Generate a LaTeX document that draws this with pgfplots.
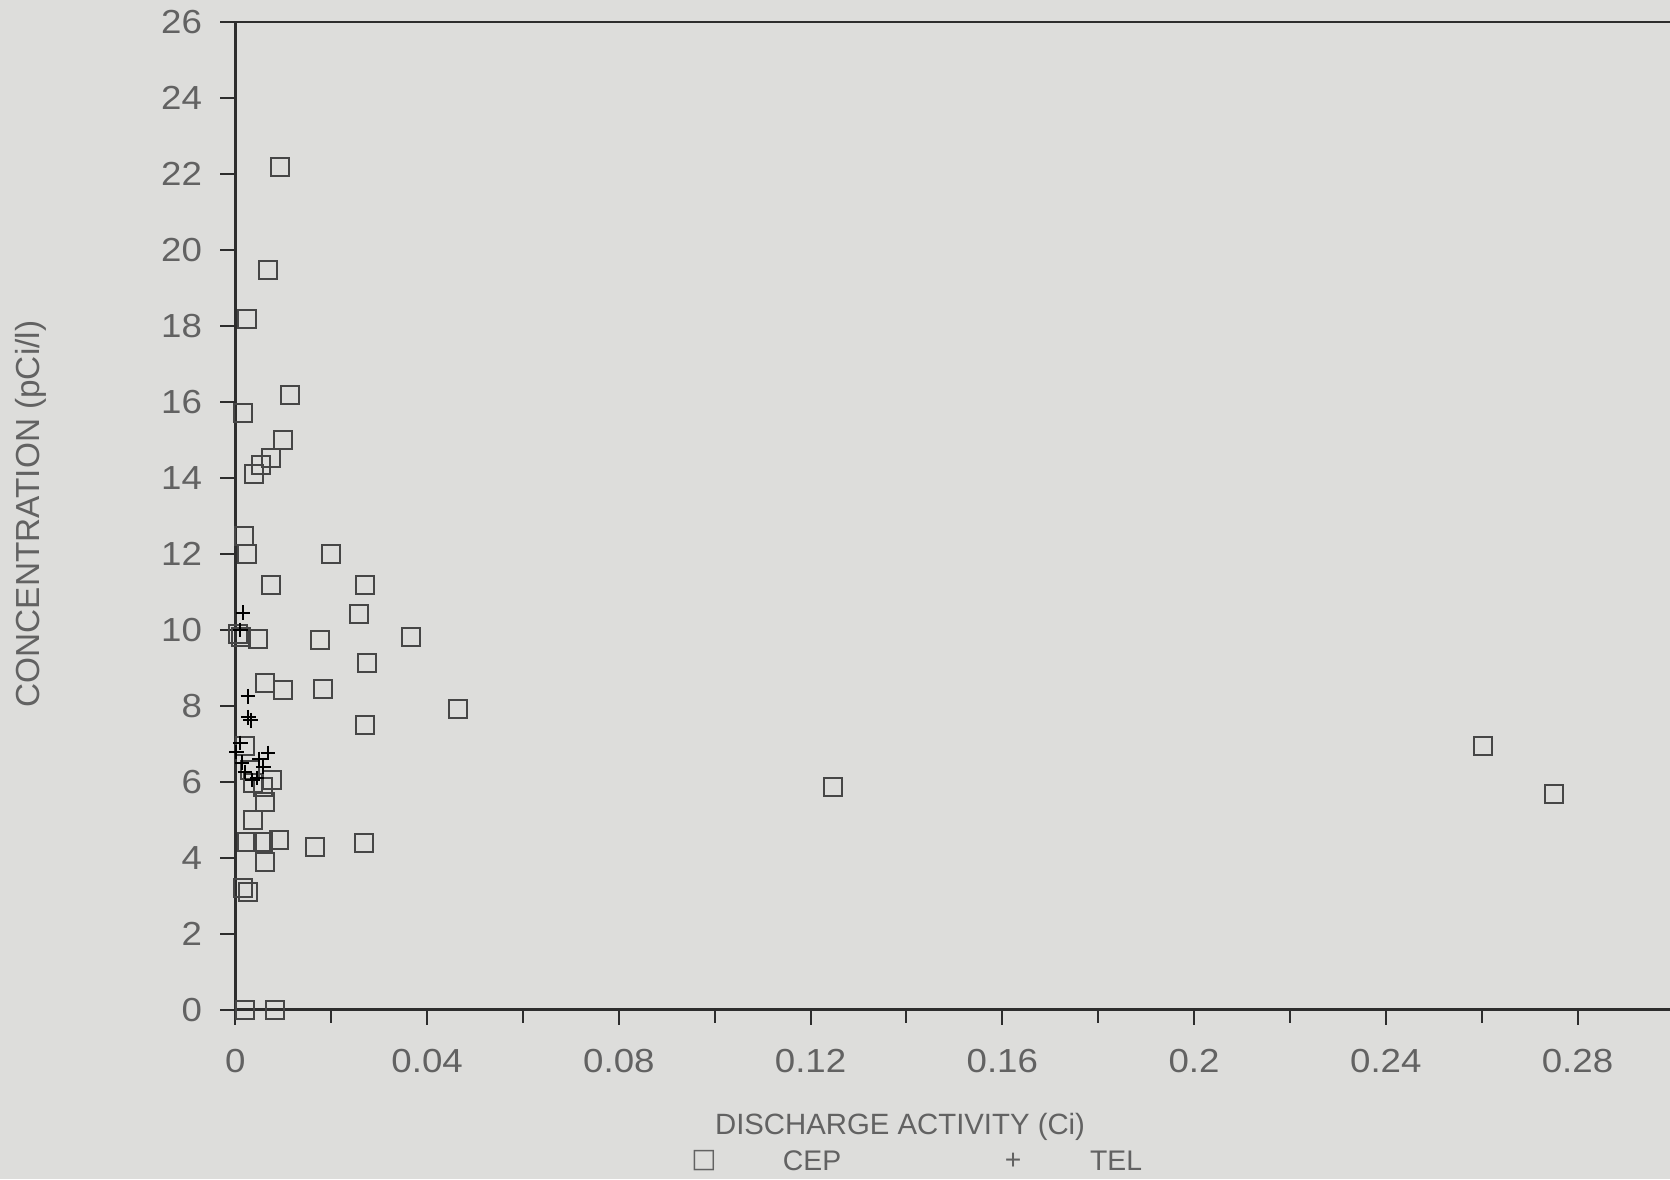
\documentclass[border=0pt]{standalone}
\usepackage{pgfplots}
\pgfplotsset{compat=1.18}
\usepackage{fontspec}
\setmainfont{Liberation Sans}
\newfontfamily\tickfont{Liberation Sans}[FakeStretch=1.1]
\newfontfamily\symfont{DejaVu Sans}
\definecolor{bg}{RGB}{221,221,219}
\definecolor{txt}{RGB}{98,98,98}
\definecolor{ax}{RGB}{45,45,45}
\definecolor{mk}{RGB}{70,70,70}
\begin{document}
\begin{tikzpicture}
\path[use as bounding box] (-70.62pt,-50.82pt) rectangle (430.38pt,302.88pt);
\clip (-70.62pt,-50.82pt) rectangle (430.38pt,302.88pt);
\fill[bg] (-70.62pt,-50.82pt) rectangle (430.38pt,302.88pt);
\begin{axis}[
  at={(0,0)}, anchor=south west,
  scale only axis, width=431.4pt, height=296.2pt,
  xmin=0, xmax=0.3, ymin=0, ymax=26,
  axis line style={ax, line width=0.7pt},
  tick style={ax, line width=0.6pt},
  tick pos=left, tick align=outside,
  major tick length=4.5pt, minor tick length=4pt,
  xtick={0,0.04,0.08,0.12,0.16,0.2,0.24,0.28},
  xticklabels={0,0.04,0.08,0.12,0.16,0.2,0.24,0.28},
  minor xtick={0.02,0.06,0.10,0.14,0.18,0.22,0.26},
  ytick={0,2,4,6,8,10,12,14,16,18,20,22,24,26},
  /pgf/number format/assume math mode=true,
  ticklabel style={font=\tickfont\fontsize{10}{12}\selectfont, text=txt},
  xticklabel style={yshift=-4pt},
  yticklabel style={xshift=-2pt},
  clip=false,
]
\addplot[only marks, mark=square, mark size=2.7pt, mk, mark options={line width=0.6pt}] coordinates {
(0.0093,22.19) (0.0067,19.47) (0.0024,18.18) (0.0113,16.19) (0.0016,15.71)
(0.0100,15.01) (0.0075,14.53) (0.0053,14.33) (0.0038,14.11) (0.0018,12.48)
(0.0024,12.01) (0.0200,12.01) (0.0075,11.19) (0.0271,11.19) (0.0257,10.41)
(0.0005,9.90) (0.0012,9.82) (0.0047,9.75) (0.0176,9.73) (0.0366,9.82)
(0.0275,9.12) (0.0062,8.60) (0.0099,8.42) (0.0183,8.45) (0.0464,7.91)
(0.0271,7.49) (0.0020,6.95) (0.2602,6.93) (0.2751,5.69) (0.1247,5.86)
(0.0030,6.30) (0.0077,6.04) (0.0037,5.96) (0.0058,5.86) (0.0062,5.47)
(0.0037,4.99) (0.0024,4.41) (0.0058,4.41) (0.0090,4.47) (0.0166,4.28)
(0.0268,4.40) (0.0062,3.89) (0.0016,3.20) (0.0026,3.10) (0.0020,0) (0.0083,0)
};
\addplot[only marks, mark=+, mark size=2.2pt, black, mark options={line width=0.6pt}] coordinates {
(0.0016,10.45) (0.0010,10.00) (0.0026,8.25) (0.0027,7.70) (0.0032,7.62)
(0.0010,7.02) (0.0002,6.78) (0.0068,6.76) (0.0058,6.40) (0.0020,6.26)
(0.0035,6.05) (0.0045,6.10) (0.0014,6.50) (0.0050,6.60)
};
\draw[ax, line width=0.7pt] (axis cs:0,26) -- (axis cs:0.3,26);
\end{axis}
\node[rotate=90, text=txt, font=\fontsize{10}{12}\selectfont] at (-61.3pt,148.7pt) {CONCENTRATION (pCi/l)};
\node[text=txt, font=\fontsize{8.8}{10}\selectfont] at (199.4pt,-35.2pt) {DISCHARGE ACTIVITY (Ci)};
\node[text=txt, font=\symfont\fontsize{8}{10}\selectfont] at (140.6pt,-45.4pt) {□};
\node[text=txt, font=\fontsize{8.5}{10}\selectfont] at (173pt,-45.4pt) {CEP};
\node[text=txt, font=\fontsize{8.5}{10}\selectfont] at (233.3pt,-45.4pt) {+};
\node[text=txt, font=\fontsize{8.5}{10}\selectfont] at (264.2pt,-45.4pt) {TEL};
\end{tikzpicture}
\end{document}
